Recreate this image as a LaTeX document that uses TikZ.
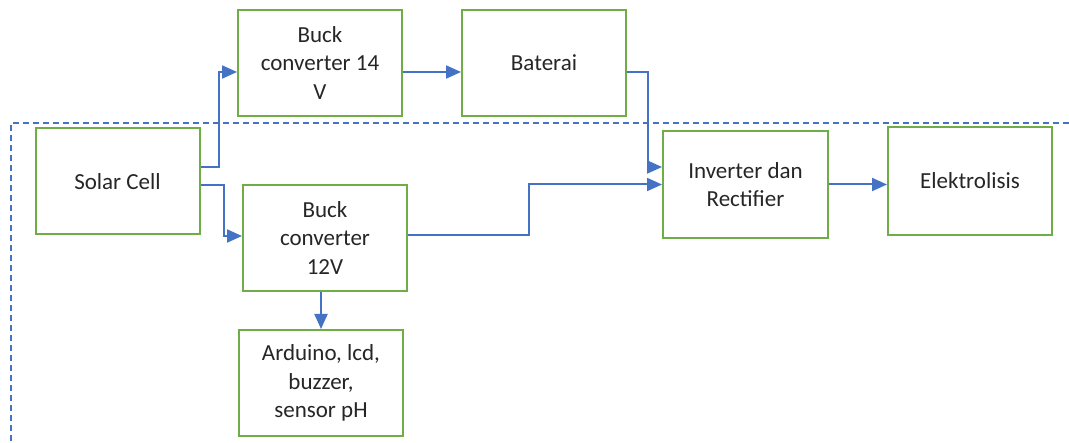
\documentclass[tikz,border=0pt]{standalone}
\usepackage{fontspec}
\setmainfont{Carlito}
\usetikzlibrary{calc,arrows.meta}
\definecolor{boxgreen}{HTML}{70AD47}
\definecolor{lineblue}{HTML}{4472C4}
\tikzset{>={Triangle[length=15pt,width=13pt]}}
\tikzset{blok/.style={draw=boxgreen,line width=2pt,fill=white,
  minimum width=164pt,minimum height=106pt,align=center,
  text=black!85,font=\fontsize{23}{28.5}\selectfont,inner sep=0pt}}
\tikzset{wire/.style={draw=lineblue,line width=2pt,->}}

\begin{document}
\begin{tikzpicture}[x=1pt,y=-1pt]
\useasboundingbox (0,0) rectangle (1069,443);
\coordinate (dr) at (1069,123);
\coordinate (dl) at (11,123);
\coordinate (db) at (11,443);
\draw[lineblue,line width=1.5pt,dash pattern=on 6pt off 4pt] (dr) -- (dl) -- (db);
\node[blok] (solar) at (117.5,181.5) {Solar Cell};
\node[blok] (b14) at (320,63) {Buck\\converter 14\\V};
\node[blok] (bat) at (544,63) {Baterai};
\node[blok] (b12) at (325,238) {Buck\\converter\\12V};
\node[blok] (ard) at (321,383) {Arduino, lcd,\\buzzer,\\sensor pH};
\node[blok,minimum width=165pt,minimum height=107pt] (inv) at (745.5,184.5) {Inverter dan\\Rectifier};
\node[blok,minimum height=108pt] (elk) at (970,181) {Elektrolisis};
\draw[wire] ([yshift=14.5pt]solar.east) -- ++(18,0) |- ([yshift=-9pt]b14.west);
\draw[wire] ([yshift=-3.5pt]solar.east) -- ++(23,0) |- ([yshift=2pt]b12.west);
\draw[wire] ([yshift=-9pt]b14.east) -- ([yshift=-9pt]bat.west);
\draw[wire] ([yshift=-9pt]bat.east) -- ++(21,0) |- ([yshift=17.5pt]inv.west);
\draw[wire] ([yshift=3pt]b12.east) -- ++(121,0) |- (inv.west);
\draw[wire] (inv.east) -- (inv.east -| elk.west);
\draw[wire] (b12.south -| ard.north) -- (ard.north);
\end{tikzpicture}
\end{document}
